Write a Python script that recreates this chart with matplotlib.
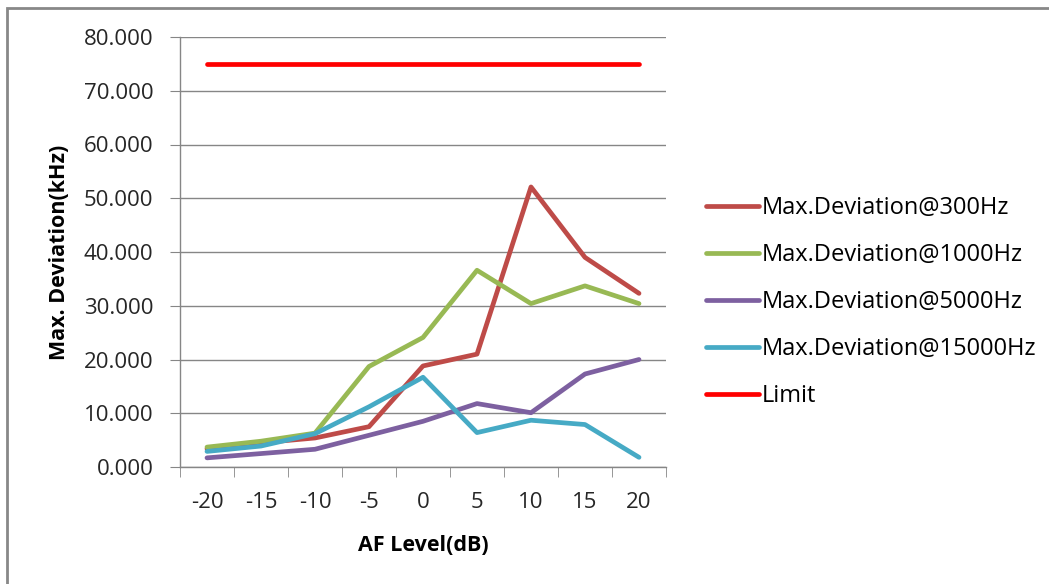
import matplotlib.pyplot as plt
from matplotlib.patches import Rectangle

plt.rcParams['font.family'] = ['Open Sans', 'DejaVu Sans']

levels = ['-20', '-15', '-10', '-5', '0', '5', '10', '15', '20']
dev_300 = [3.4, 4.5, 5.4, 7.5, 18.8, 21.0, 52.1, 39.0, 32.3]
dev_1000 = [3.7, 4.8, 6.3, 18.7, 24.1, 36.6, 30.4, 33.7, 30.4]
dev_5000 = [1.7, 2.5, 3.3, 5.9, 8.5, 11.8, 10.1, 17.3, 20.0]
dev_15000 = [2.9, 3.9, 6.2, 11.2, 16.7, 6.4, 8.7, 7.9, 1.8]
limit = [75, 75, 75, 75, 75, 75, 75, 75, 75]

series = [
    ('Max.Deviation@300Hz', dev_300, '#BE4B48'),
    ('Max.Deviation@1000Hz', dev_1000, '#98B954'),
    ('Max.Deviation@5000Hz', dev_5000, '#7D60A0'),
    ('Max.Deviation@15000Hz', dev_15000, '#46AAC5'),
    ('Limit', limit, '#FF0000'),
]

fig = plt.figure(figsize=(10.49, 5.84), dpi=100)
ax = fig.add_axes([180 / 1049, 1 - 467 / 584, 486 / 1049, 430 / 584])

x = list(range(len(levels)))
for name, vals, col in series:
    ax.plot(x, vals, color=col, lw=3.4, label=name, solid_capstyle='round',
            solid_joinstyle='round')

ax.set_xlim(-0.5, len(levels) - 0.5)
ax.set_ylim(0, 80)
ax.set_yticks(range(0, 81, 10))
ax.set_yticklabels(['%.3f' % v for v in range(0, 81, 10)])
ax.set_xticks(x)
ax.set_xticklabels(levels)
ax.set_xticks([i - 0.5 for i in range(len(levels) + 1)], minor=True)
ax.tick_params(axis='x', which='major', length=0, pad=18, labelsize=16, colors='#262626')
ax.tick_params(axis='x', which='minor', length=7, color='#868686', direction='out')
ax.tick_params(axis='y', length=7, color='#868686', pad=12, labelsize=16, colors='#262626')

ax.grid(axis='y', color='#868686', lw=1)
ax.set_axisbelow(True)
for s in ['top', 'right']:
    ax.spines[s].set_visible(False)
for s in ['left', 'bottom']:
    ax.spines[s].set_color('#868686')
    ax.spines[s].set_linewidth(1)

ax.set_xlabel('AF Level(dB)', fontsize=15.5, fontweight='bold', labelpad=16)
ax.set_ylabel('Max. Deviation(kHz)', fontsize=15.5, fontweight='bold', labelpad=10)

ax.legend(loc='upper left', bbox_to_anchor=(685 / 1049, 1 - 175 / 584),
          bbox_transform=fig.transFigure, frameon=False, fontsize=17,
          handlelength=2.25, handletextpad=0.1, labelspacing=0.97)

fig.patches.append(Rectangle((7 / 1049, -0.1), 1.2, 1 - 8 / 584 + 0.1,
                             transform=fig.transFigure, fill=False,
                             edgecolor='#888888', lw=2))

fig.savefig('out.png', dpi=100)
